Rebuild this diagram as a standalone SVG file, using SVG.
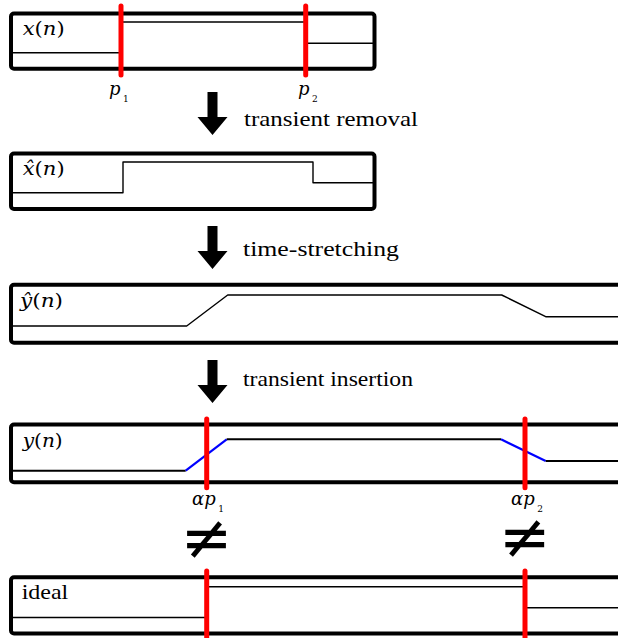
<svg xmlns="http://www.w3.org/2000/svg" width="618" height="638" viewBox="0 0 618 638">
<style>
.box{fill:none;stroke:#000;stroke-width:4;}
.sig{fill:none;stroke:#000;stroke-width:1.4;stroke-linejoin:round;}
.blue{fill:none;stroke:#0000ff;stroke-width:2.2;}
.sig2{fill:none;stroke:#000;stroke-width:2;}
.red{stroke:#ff0000;stroke-width:5;stroke-linecap:round;}
.it{font-style:italic;}
.arr{fill:#000;}
.lbl{font-family:'DejaVu Serif','Liberation Serif',serif;font-size:18px;fill:#000;}
.cap{font-family:'Liberation Serif','DejaVu Serif',serif;font-size:22px;fill:#000;}
.ne{font-family:'DejaVu Sans',sans-serif;font-size:62px;fill:#000;}
</style>
<rect width="618" height="638" fill="#fff"/>

<g id="x">
<rect class="box" x="11" y="13.5" width="363.5" height="55.3" rx="3"/>
<path class="sig" d="M11,52.7 H121 V22 H305.7 V43.3 H374"/>
<line class="red" x1="121" y1="6" x2="121" y2="75"/>
<line class="red" x1="305.7" y1="6" x2="305.7" y2="75"/>
<text class="lbl" x="22.7" y="35" textLength="42" lengthAdjust="spacingAndGlyphs"><tspan class="it">x</tspan>(<tspan class="it">n</tspan>)</text>
<text class="lbl" x="109" y="95"><tspan class="it">p</tspan><tspan font-size="9" dx="2.5" dy="7">1</tspan></text>
<text class="lbl" x="298" y="95"><tspan class="it">p</tspan><tspan font-size="9" dx="2.5" dy="7">2</tspan></text>
</g>

<g id="xhat">
<rect class="box" x="11" y="153.5" width="363.5" height="55.5" rx="3"/>
<path class="sig" d="M11,192.7 H123 V162 H313 V182.7 H374"/>
<text class="lbl" x="22.7" y="175" textLength="42" lengthAdjust="spacingAndGlyphs"><tspan class="it">x̂</tspan>(<tspan class="it">n</tspan>)</text>
</g>

<g id="yhat">
<rect class="box" x="11" y="284.8" width="700" height="58" rx="3"/>
<path class="sig" d="M11,326 H186.7 L227.7,295 H501.7 L545.7,316.7 H620"/>
<text class="lbl" x="20" y="307" textLength="43" lengthAdjust="spacingAndGlyphs"><tspan class="it">ŷ</tspan>(<tspan class="it">n</tspan>)</text>
</g>

<g id="y">
<rect class="box" x="11" y="424.5" width="700" height="57.8" rx="3"/>
<path class="sig2" d="M11,470.7 H185.7"/>
<path class="blue" d="M185.7,470.7 L226.7,439.3"/>
<path class="sig2" d="M226.7,439.3 H501"/>
<path class="blue" d="M501,439.3 L545.7,461"/>
<path class="sig2" d="M545.7,461 H620"/>
<line class="red" x1="206.7" y1="419" x2="206.7" y2="487.7"/>
<line class="red" x1="525" y1="419" x2="525" y2="487.7"/>
<text class="lbl" x="22.7" y="447" textLength="40" lengthAdjust="spacingAndGlyphs"><tspan class="it">y</tspan>(<tspan class="it">n</tspan>)</text>
<text class="lbl" x="192" y="505"><tspan class="it">αp</tspan><tspan font-size="9" dx="2.5" dy="7">1</tspan></text>
<text class="lbl" x="511" y="505"><tspan class="it">αp</tspan><tspan font-size="9" dx="2.5" dy="7">2</tspan></text>
<text class="ne" x="206.7" y="559" text-anchor="middle">≠</text>
<text class="ne" x="525" y="558" text-anchor="middle">≠</text>
</g>

<g id="ideal">
<rect class="box" x="11" y="577.3" width="700" height="56.2" rx="3"/>
<path class="sig" d="M11,617.5 H206.7 V586.7 H525 V607.7 H620"/>
<line class="red" x1="206.7" y1="571" x2="206.7" y2="645"/>
<line class="red" x1="525" y1="571" x2="525" y2="645"/>
<text class="cap" x="21.7" y="599" textLength="46.6" lengthAdjust="spacingAndGlyphs">ideal</text>
</g>

<g id="connectors">
<polygon class="arr" points="207.5,92 217.5,92 217.5,117 227.5,117 212.5,135 197.5,117 207.5,117"/>
<polygon class="arr" points="207.5,226 217.5,226 217.5,251 227.5,251 212.5,269 197.5,251 207.5,251"/>
<polygon class="arr" points="207.5,360 217.5,360 217.5,385 227.5,385 212.5,403 197.5,385 207.5,385"/>
<text class="cap" x="244" y="126" textLength="174" lengthAdjust="spacingAndGlyphs">transient removal</text>
<text class="cap" x="243" y="256" textLength="156" lengthAdjust="spacingAndGlyphs">time-stretching</text>
<text class="cap" x="243" y="386" textLength="170" lengthAdjust="spacingAndGlyphs">transient insertion</text>
</g>
</svg>
